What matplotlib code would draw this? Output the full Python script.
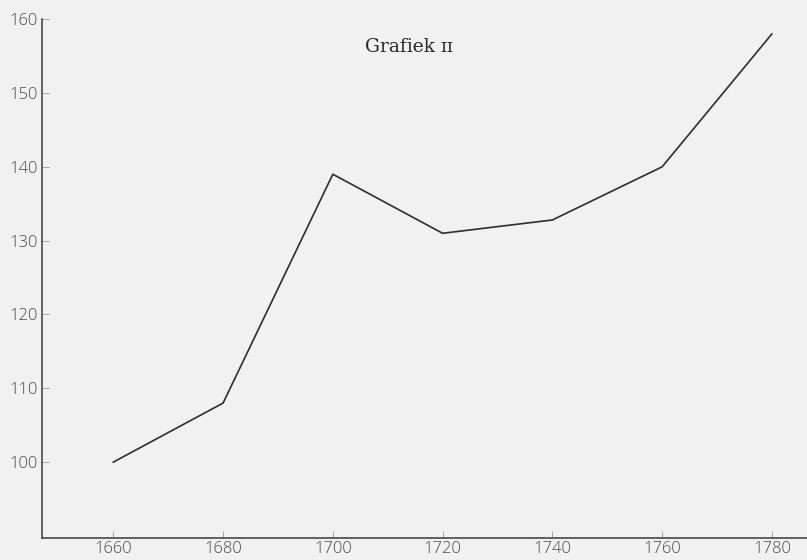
import matplotlib
matplotlib.use("Agg")
from matplotlib import pyplot as plt

# Index values
years = [1660, 1680, 1700, 1720, 1740, 1760, 1780]
index = [100, 108, 139, 131, 132.8, 140, 158]
y_ticks = [100, 110, 120, 130, 140, 150, 160]

bg = '#f1f1f1'
fig = plt.figure(figsize=(8.07, 5.6), dpi=100, facecolor=bg)
ax = fig.add_axes([0.052, 0.039, 0.948, 0.961], facecolor=bg)

ax.plot(years, index, color='#2e2e2e', linewidth=1.2)

ax.set_xlim(1647, 1786.4)
ax.set_ylim(89.7, 162.6)
ax.set_xticks(years)
ax.set_yticks(y_ticks)

for side in ['top', 'right']:
    ax.spines[side].set_visible(False)
for side in ['left', 'bottom']:
    ax.spines[side].set_color('#3a3a3a')
    ax.spines[side].set_linewidth(1.1)
ax.spines['left'].set_bounds(89.7, 160)

ax.tick_params(axis='both', direction='in', length=5, width=0.6, color='#999999',
               labelsize=12, labelcolor='#4a4a4a')
ax.tick_params(axis='x', pad=2)
ax.tick_params(axis='y', pad=3)
for lbl in ax.get_xticklabels() + ax.get_yticklabels():
    lbl.set_fontfamily(['Open Sans', 'DejaVu Sans'])
    lbl.set_fontweight('light')

# Title inside the plot, serif with small caps numeral
ax.text(0.48, 0.913, 'Grafiek ɪɪ', transform=ax.transAxes, ha='center', va='center',
        fontsize=13.5, color='#2a2a2a', family=['DejaVu Serif'])

fig.savefig('out.png', dpi=100, facecolor=bg)
